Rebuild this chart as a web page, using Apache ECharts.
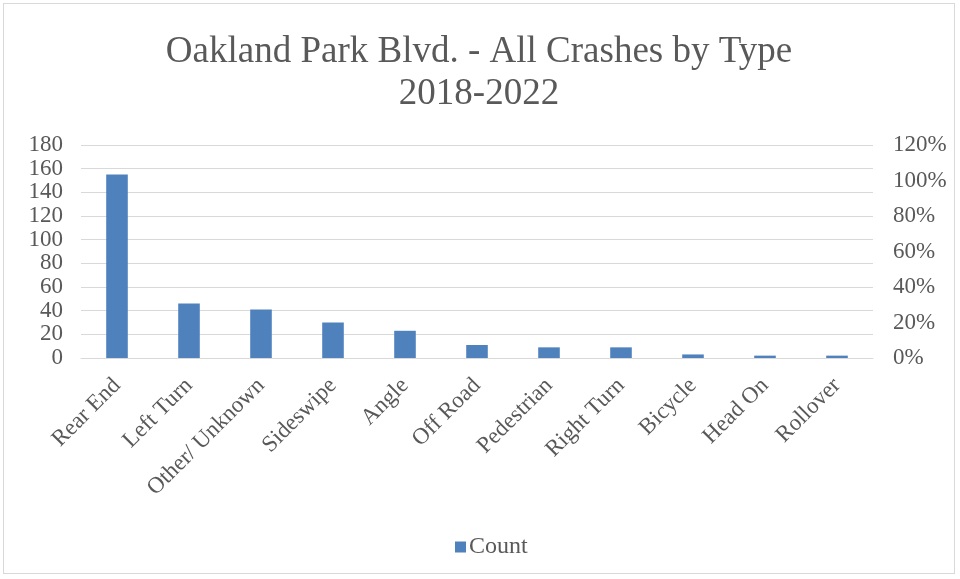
<!DOCTYPE html>
<html><head><meta charset="utf-8">
<script src="https://cdn.jsdelivr.net/npm/echarts@6/dist/echarts.min.js"></script>
<style>
html,body{margin:0;padding:0;background:#fff;}
#c{position:absolute;left:3px;top:3px;width:952px;height:571px;border:1px solid #d9d9d9;box-sizing:border-box;}
</style></head><body>
<div id="c"></div>
<script>
const categories = ["Rear End","Left Turn","Other/ Unknown","Sideswipe","Angle","Off Road","Pedestrian","Right Turn","Bicycle","Head On","Rollover"];
const counts = [155, 46, 41, 30, 23, 11, 9, 9, 3, 2, 2];
const leftTicks = {min:0, max:180, interval:20};
const rightTicks = {min:0, max:1.2, interval:0.2};
const titleLines = ["Oakland Park Blvd. - All Crashes by Type","2018-2022"];

const font = "'Liberation Serif','Times New Roman',serif";
const grey = '#595959';
const chart = echarts.init(document.getElementById('c'));
chart.setOption({
  animation:false,
  textStyle:{fontFamily:font},
  title:{text:titleLines.join('\n'), left:'center', top:22,
    textStyle:{fontFamily:font, fontSize:37, fontWeight:'normal', color:grey, lineHeight:42}},
  legend:{top:526, left:446, itemWidth:11, itemHeight:11, itemGap:4,
    textStyle:{fontFamily:font, fontSize:24, color:grey, padding:[0,0,0,-2]},
    data:[{name:'Count', icon:'rect'}]},
  grid:{left:77, right:81, top:141, bottom:215, containLabel:false},
  xAxis:{type:'category', data:categories,
    axisLine:{lineStyle:{color:'#d9d9d9', width:1}}, axisTick:{show:false},
    axisLabel:{rotate:45, fontFamily:font, fontSize:23, color:grey, margin:24, interval:0, hideOverlap:false}},
  yAxis:[
    {type:'value', min:leftTicks.min, max:leftTicks.max, interval:leftTicks.interval,
     axisLine:{show:false}, axisTick:{show:false},
     splitLine:{lineStyle:{color:'#d9d9d9', width:1}},
     axisLabel:{fontFamily:font, fontSize:23, color:grey, margin:18, showMinLabel:true, showMaxLabel:true}},
    {type:'value', min:rightTicks.min, max:rightTicks.max, interval:rightTicks.interval,
     position:'right', axisLine:{show:false}, axisTick:{show:false}, splitLine:{show:false},
     axisLabel:{fontFamily:font, fontSize:23, color:grey, margin:20, showMinLabel:true, showMaxLabel:true,
       formatter:v=>Math.round(v*100)+'%'}}
  ],
  series:[{name:'Count', type:'bar', data:counts, barWidth:'30%', yAxisIndex:0,
    itemStyle:{color:'#4f81bd'}}]
});
</script>
</body></html>
